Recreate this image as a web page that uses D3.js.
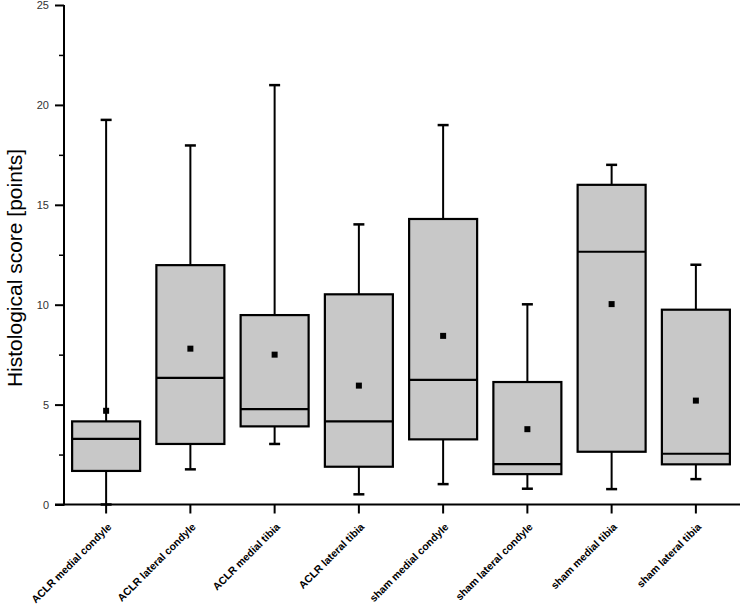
<!DOCTYPE html>
<html><head><meta charset="utf-8">
<script src="https://cdn.jsdelivr.net/npm/d3@7"></script>
<style>body{margin:0;background:#fff}svg{display:block}</style>
</head><body>
<script>
const categories = ["ACLR medial condyle","ACLR lateral condyle","ACLR medial tibia","ACLR lateral tibia","sham medial condyle","sham lateral condyle","sham medial tibia","sham lateral tibia"];
const whiskerLow = [0, 1.76, 3.03, 0.51, 1.02, 0.79, 0.77, 1.27];
const q1 =        [1.68, 3.03, 3.91, 1.89, 3.26, 1.52, 2.64, 2.01];
const median =    [3.28, 6.34, 4.77, 4.16, 6.24, 2.02, 12.65, 2.54];
const q3 =        [4.16, 11.98, 9.48, 10.52, 14.29, 6.13, 16.0, 9.75];
const whiskerHigh = [19.25, 17.97, 20.99, 14.02, 18.99, 10.02, 17.0, 12.0];
const mean =      [4.69, 7.8, 7.5, 5.95, 8.44, 3.77, 10.03, 5.2];
const yTicks = [0, 5, 10, 15, 20, 25];
const yMinorTicks = [2.5, 7.5, 12.5, 17.5, 22.5];
const yLabel = "Histological score [points]";

const W = 740, H = 609;
const svg = d3.select("body").append("svg").attr("width", W).attr("height", H);
const x = d3.scaleBand().domain(categories).range([64, 738]);
const y = d3.scaleLinear().domain([0, 25]).range([504.5, 5]);
const data = categories.map((c, i) => ({c, lo: whiskerLow[i], q1: q1[i], med: median[i], q3: q3[i], hi: whiskerHigh[i], mean: mean[i]}));
const bw = 68, cap = 11;
const g = svg.append("g");
data.forEach(d => {
  const cx = x(d.c) + x.bandwidth() / 2;
  g.append("line").attr("x1", cx).attr("x2", cx).attr("y1", y(d.q3)).attr("y2", y(d.hi)).attr("stroke", "#000").attr("stroke-width", 2);
  g.append("line").attr("x1", cx).attr("x2", cx).attr("y1", y(d.q1)).attr("y2", y(d.lo)).attr("stroke", "#000").attr("stroke-width", 2);
  g.append("line").attr("x1", cx - cap/2).attr("x2", cx + cap/2).attr("y1", y(d.hi)).attr("y2", y(d.hi)).attr("stroke", "#000").attr("stroke-width", 2.5);
  g.append("line").attr("x1", cx - cap/2).attr("x2", cx + cap/2).attr("y1", y(d.lo)).attr("y2", y(d.lo)).attr("stroke", "#000").attr("stroke-width", 2.5);
  g.append("rect").attr("x", cx - bw/2).attr("y", y(d.q3)).attr("width", bw).attr("height", y(d.q1) - y(d.q3))
    .attr("fill", "#c8c8c8").attr("stroke", "#000").attr("stroke-width", 2.2);
  g.append("line").attr("x1", cx - bw/2).attr("x2", cx + bw/2).attr("y1", y(d.med)).attr("y2", y(d.med)).attr("stroke", "#000").attr("stroke-width", 2.2);
  g.append("rect").attr("x", cx - 3).attr("y", y(d.mean) - 3).attr("width", 6).attr("height", 6).attr("fill", "#000");
});

// Y axis
const yAxis = svg.append("g").attr("transform", "translate(64,0)")
  .call(d3.axisLeft(y).tickValues(yTicks).tickSize(9).tickPadding(6).tickFormat(d3.format("d")));
yAxis.select(".domain").attr("stroke", "#000").attr("stroke-width", 2).attr("d", "M0,5V505.5");
yAxis.selectAll(".tick line").attr("stroke", "#000").attr("stroke-width", 2);
yAxis.selectAll("text").attr("font-family", "Liberation Sans, Arial, sans-serif").attr("font-size", 11).attr("fill", "#333");
svg.append("g").attr("transform", "translate(64,0)")
  .call(d3.axisLeft(y).tickValues(yMinorTicks).tickSize(5).tickFormat(""))
  .call(a => a.select(".domain").remove())
  .selectAll("line").attr("stroke", "#000").attr("stroke-width", 1.5);

// X axis
const xAxis = svg.append("g").attr("transform", "translate(0,504.5)")
  .call(d3.axisBottom(x).tickSize(9).tickSizeOuter(0));
xAxis.select(".domain").attr("stroke", "#000").attr("stroke-width", 2).attr("d", "M55,0H740");
xAxis.selectAll(".tick line").attr("stroke", "#000").attr("stroke-width", 2);
xAxis.selectAll("text")
  .attr("font-family", "Liberation Sans, Arial, sans-serif").attr("font-size", 10.5).attr("font-weight", "bold").attr("fill", "#000")
  .attr("text-anchor", "end").attr("dy", 0).attr("y", 0)
  .attr("transform", "translate(6,23) rotate(-45)");

svg.append("text").attr("transform", "translate(22,268) rotate(-90)")
  .attr("text-anchor", "middle").attr("font-family", "Liberation Sans, Arial, sans-serif").attr("font-size", 21).attr("fill", "#000")
  .text(yLabel);
</script>
</body></html>
